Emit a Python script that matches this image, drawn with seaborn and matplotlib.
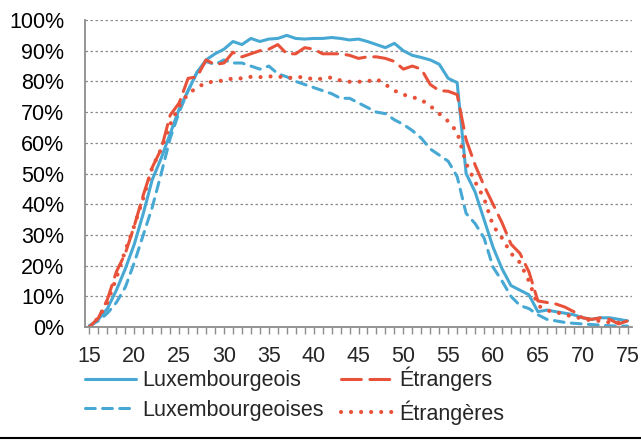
import pandas as pd
import matplotlib.pyplot as plt
import seaborn as sns
from matplotlib.lines import Line2D
from matplotlib.ticker import MultipleLocator

# Alter (Kategorien der x-Achse)
ages = list(range(15, 76))

# Werte in %
luxembourgeois = [0, 2.5, 6, 12, 19, 27, 37, 48, 55, 63,
                  71, 77, 83, 87, 89, 90.5, 93, 92, 94, 93,
                  93.8, 94, 95, 94, 93.8, 94, 94, 94.3, 94, 93.5,
                  93.8, 93, 92, 91, 92.4, 90, 88.5, 87.8, 87, 85.6,
                  81, 79.6, 50, 44, 35, 26, 19, 13.5, 12, 10.5,
                  5, 5.5, 5, 4.5, 4, 3, 2.5, 3, 3, 2.5,
                  2]
etrangers = [0, 3, 9, 18, 24, 33, 43, 52, 58, 69,
             73, 81, 81.5, 87, 85.5, 86, 89.5, 88, 89, 90,
             90.5, 92, 89, 89, 91, 90.5, 89, 89, 89, 88.5,
             87.5, 88, 88, 87.5, 86.5, 84, 85, 84, 79, 77,
             76.8, 75.7, 61, 52.8, 46, 40, 34, 27, 24, 18,
             8.5, 8, 7.5, 6.5, 5, 3, 2.5, 3, 2.5, 1,
             2]
luxembourgeoises = [0.5, 2, 4.5, 8, 13, 21, 30, 39, 50, 61.5,
                    70, 77, 83, 86.5, 85.5, 87, 86, 86, 85, 84,
                    85, 82.5, 81.5, 80, 79, 78, 77, 76, 74.5, 74.5,
                    73, 71.5, 70, 69.5, 67.5, 66, 64, 61.5, 58, 56,
                    54, 49, 37, 33.7, 29, 19.5, 15, 10, 7, 6,
                    4, 2.5, 2, 1.5, 1.2, 1, 0.8, 0.6, 0.4, 0.3,
                    0.3]
etrangeres = [0, 3, 8, 16, 25, 33, 42, 52, 58, 66,
              72, 76, 78, 79.6, 80, 80.3, 81, 81, 81.5, 81.4,
              81.6, 81.7, 81, 81.5, 81.3, 80.7, 80.9, 81.3, 80.3, 79.9,
              79.9, 80, 80.8, 79, 77, 75.7, 74.9, 74, 72, 69.5,
              67, 63.5, 53.3, 47.3, 41.9, 33, 29, 24, 21, 15,
              7, 5.4, 4.9, 4, 3.4, 2.7, 2.1, 2, 1.5, 1.4,
              1.7]

groups = ["Luxembourgeois", "Luxembourgeoises", "Étrangers", "Étrangères"]
values = [luxembourgeois, luxembourgeoises, etrangers, etrangeres]

# Long-Format fuer seaborn
df = pd.concat([pd.DataFrame({"age": ages, "taux": v, "groupe": g})
                for g, v in zip(groups, values)], ignore_index=True)

blue = "#47A9D3"
red = "#E8523A"
palette = {"Luxembourgeois": blue, "Luxembourgeoises": blue,
           "Étrangers": red, "Étrangères": red}
dashes = {"Luxembourgeois": "", "Luxembourgeoises": (3.2, 2.4),
          "Étrangers": (6.5, 2.8), "Étrangères": (0.01, 2.4)}

sns.set_style("white")
plt.rcParams["font.family"] = ["Liberation Sans", "DejaVu Sans"]

fig = plt.figure(figsize=(6.41, 4.41), dpi=100)
ax = fig.add_axes([0.1326, 0.2585, 0.8534, 0.6961])

sns.lineplot(data=df, x="age", y="taux", hue="groupe", style="groupe",
             hue_order=groups, style_order=groups, palette=palette,
             dashes=dashes, linewidth=2.2, legend=False, ax=ax)

for line in ax.lines:
    line.set_dash_capstyle("round")
    line.set_solid_capstyle("round")
# Punkte etwas dicker, damit sie rund wirken
ax.lines[3].set_linewidth(3.0)

ax.set_xlim(14.5, 75.5)
ax.set_ylim(0, 100)
ax.set_xticks(range(15, 76, 5))
ax.xaxis.set_minor_locator(MultipleLocator(1))
ax.set_yticks(range(0, 101, 10))
ax.set_yticklabels([f"{v}%" for v in range(0, 101, 10)])
ax.set_xlabel("")
ax.set_ylabel("")

# Gitterlinien gepunktet, nur horizontal
ax.yaxis.grid(True, color="#8c8c8c", linestyle=(0, (2, 2)), linewidth=0.9)
ax.xaxis.grid(False)
for s in ["top", "right"]:
    ax.spines[s].set_visible(False)
for s in ["left", "bottom"]:
    ax.spines[s].set_color("#8c8c8c")
    ax.spines[s].set_linewidth(1.3)

ax.tick_params(axis="y", length=0, pad=15, labelsize=15.5, colors="black")
ax.tick_params(axis="x", which="both", direction="out", length=5, width=1,
               color="#8c8c8c", bottom=True, labelsize=15.5, pad=9)

# Legende unten, zwei Spalten
handles = ax.lines[:4]
fig.legend(handles, groups, ncol=2, loc="upper left",
           bbox_to_anchor=(0.132, 0.168), frameon=False, fontsize=15.5,
           handlelength=2.4, handletextpad=0.3, columnspacing=0.8,
           labelspacing=0.4, borderpad=0, borderaxespad=0)

# schwarze Linie am unteren Rand
fig.add_artist(Line2D([0, 1], [0.007, 0.007], color="black", linewidth=1.5,
                      transform=fig.transFigure))

plt.savefig("out.png", dpi=100)
